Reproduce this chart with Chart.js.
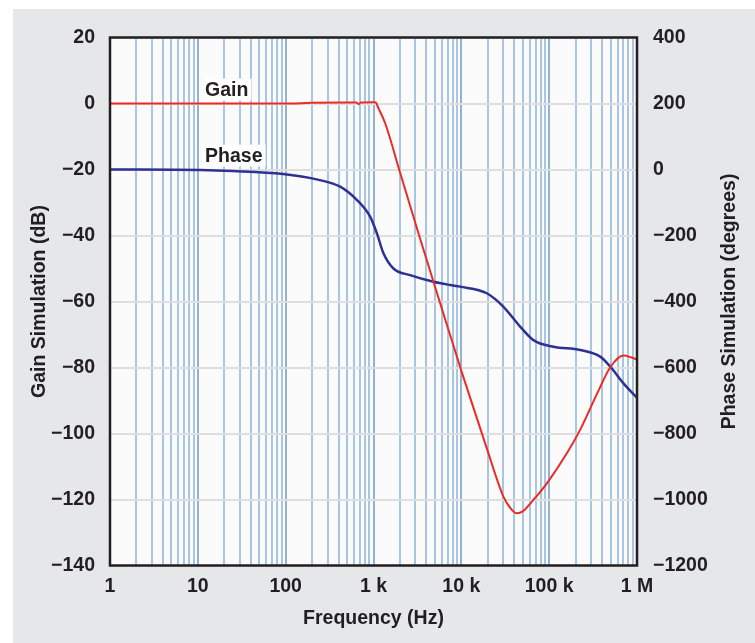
<!DOCTYPE html>
<html lang="en">
<head>
<meta charset="UTF-8">
<title>Gain and Phase Simulation</title>
<script src="https://cdn.jsdelivr.net/npm/chart.js"></script>
<style>
  html, body { margin: 0; padding: 0; background: #ffffff; }
  #panel {
    position: absolute;
    left: 13px;
    top: 9px;
    width: 742px;
    height: 634px;
    background: #e6e7e8;
  }
</style>
</head>
<body>
<div id="panel"><canvas id="bode" width="742" height="634"></canvas></div>
<script>
// gain trace (dB, left axis)
const gainFreq = [1, 100, 200, 500, 640, 680, 720, 1000, 1060, 1140, 1355, 2010, 3395, 5737, 10570, 19500, 30200, 35970, 42850, 50000, 65800, 94200, 159000, 225000, 350000, 495000, 700000, 850000, 1000000];
const gainDb = [0, 0, 0.2, 0.3, 0.3, -0.2, 0.3, 0.4, 0.3, -1.5, -5.9, -21, -41, -60.5, -83, -104.5, -119.2, -122.5, -124.2, -123.6, -120.2, -115.1, -106, -98.9, -88, -80, -76.4, -76.9, -77.6];

// phase trace (degrees, right axis)
const phaseFreq = [1, 10.6, 25, 93.4, 226, 417, 645, 915, 1091, 1298, 1687, 2612, 4810, 7450, 9690, 19500, 30200, 46700, 66200, 112000, 225000, 381000, 495000, 702000, 1000000];
const phaseDeg = [0, -1.5, -4.5, -13.6, -30, -52, -92, -143, -193, -254, -300, -320, -340, -350, -355, -375, -416, -476, -517, -537, -547, -567, -597, -648, -692];

// x axis labels at decades
const decadeValues = [1, 10, 100, 1000, 10000, 100000, 1000000];
const decadeLabels = ['1', '10', '100', '1 k', '10 k', '100 k', '1 M'];

const ink = '#231f20';
const fontFamily = '"Liberation Sans", Arial, Helvetica, sans-serif';
const fontSize = 19.5;
const boldFont = { family: fontFamily, size: fontSize, weight: 'bold' };

// grid lines at 1..9 of every decade
const gridValues = [];
decadeValues.forEach(d => {
  for (let k = 1; k <= 9; k++) {
    if (d * k <= 1000000) gridValues.push(d * k);
  }
});

function pairs(xs, ys) {
  return xs.map((x, i) => ({ x: x, y: ys[i] }));
}

function minus(v) {
  return String(v).replace('-', '\u2212');
}

const extras = {
  id: 'extras',
  beforeDraw(chart) {
    const a = chart.chartArea;
    const c = chart.ctx;
    c.save();
    c.fillStyle = '#fbfbfc';
    c.fillRect(a.left, a.top, a.right - a.left, a.bottom - a.top);
    c.restore();
  },
  beforeDatasetsDraw(chart) {
    const c = chart.ctx;
    const xs = chart.scales.x;
    const ys = chart.scales.y;
    const notes = [
      { text: 'Gain', f: 12.1, v: 4.2 },
      { text: 'Phase', f: 12.1, v: -15.8 }
    ];
    c.save();
    c.font = 'bold ' + fontSize + 'px ' + fontFamily;
    c.textBaseline = 'middle';
    notes.forEach(n => {
      const px = xs.getPixelForValue(n.f);
      const py = ys.getPixelForValue(n.v);
      const w = c.measureText(n.text).width;
      c.fillStyle = '#ffffff';
      c.fillRect(px - 3, py - 11, w + 6, 22);
      c.fillStyle = ink;
      c.fillText(n.text, px, py + 1);
    });
    c.restore();
  },
  afterDraw(chart) {
    const a = chart.chartArea;
    const c = chart.ctx;
    c.save();
    c.strokeStyle = ink;
    c.lineWidth = 2.5;
    c.strokeRect(a.left, a.top, a.right - a.left, a.bottom - a.top);
    // right axis title reads bottom to top, like the left one
    c.translate(chart.width - 25, (a.top + a.bottom) / 2);
    c.rotate(-Math.PI / 2);
    c.font = 'bold ' + fontSize + 'px ' + fontFamily;
    c.fillStyle = ink;
    c.textAlign = 'center';
    c.textBaseline = 'middle';
    c.fillText('Phase Simulation (degrees)', 0, 0);
    c.restore();
  }
};

const ctx = document.getElementById('bode').getContext('2d');
const chart = new Chart(ctx, {
  type: 'line',
  data: {
    datasets: [
      {
        label: 'Gain',
        data: pairs(gainFreq, gainDb),
        yAxisID: 'y',
        borderColor: '#ee2a24',
        borderWidth: 2,
        pointRadius: 0,
        cubicInterpolationMode: 'monotone'
      },
      {
        label: 'Phase',
        data: pairs(phaseFreq, phaseDeg),
        yAxisID: 'y2',
        borderColor: '#2e3192',
        borderWidth: 2.5,
        pointRadius: 0,
        cubicInterpolationMode: 'monotone'
      }
    ]
  },
  options: {
    responsive: false,
    animation: false,
    layout: { padding: { top: 28.5, left: 0, right: 0, bottom: 0 } },
    plugins: {
      legend: { display: false },
      tooltip: { enabled: false }
    },
    scales: {
      x: {
        type: 'logarithmic',
        min: 1,
        max: 1000000,
        afterFit(scale) { scale.height = 77.5; },
        afterBuildTicks(scale) {
          scale.ticks = gridValues.map(v => ({ value: v, major: decadeValues.includes(v) }));
        },
        border: { display: false },
        grid: {
          drawTicks: false,
          lineWidth: 2,
          color: c => (c.tick && decadeValues.includes(c.tick.value)) ? '#8fb2d5' : '#a8c5e1'
        },
        ticks: {
          autoSkip: false,
          maxRotation: 0,
          padding: 9,
          color: ink,
          font: boldFont,
          callback: v => {
            const i = decadeValues.indexOf(v);
            return i >= 0 ? decadeLabels[i] : '';
          }
        },
        title: {
          display: true,
          text: 'Frequency (Hz)',
          color: ink,
          font: boldFont,
          padding: { top: 0, bottom: 13 }
        }
      },
      y: {
        position: 'left',
        min: -140,
        max: 20,
        afterFit(scale) { scale.width = 97; },
        border: { display: false },
        grid: { drawTicks: false, lineWidth: 2, color: '#dedede' },
        ticks: {
          stepSize: 20,
          padding: 15,
          color: ink,
          font: boldFont,
          callback: v => minus(v)
        },
        title: {
          display: true,
          text: 'Gain Simulation (dB)',
          color: ink,
          font: boldFont,
          padding: { top: 15, bottom: 0 }
        }
      },
      y2: {
        position: 'right',
        min: -1200,
        max: 400,
        afterFit(scale) { scale.width = 118; },
        border: { display: false },
        grid: { display: false, drawTicks: false },
        ticks: {
          stepSize: 200,
          padding: 16,
          color: ink,
          font: boldFont,
          callback: v => minus(v)
        },
        title: { display: false }
      }
    }
  },
  plugins: [extras]
});
</script>
</body>
</html>
